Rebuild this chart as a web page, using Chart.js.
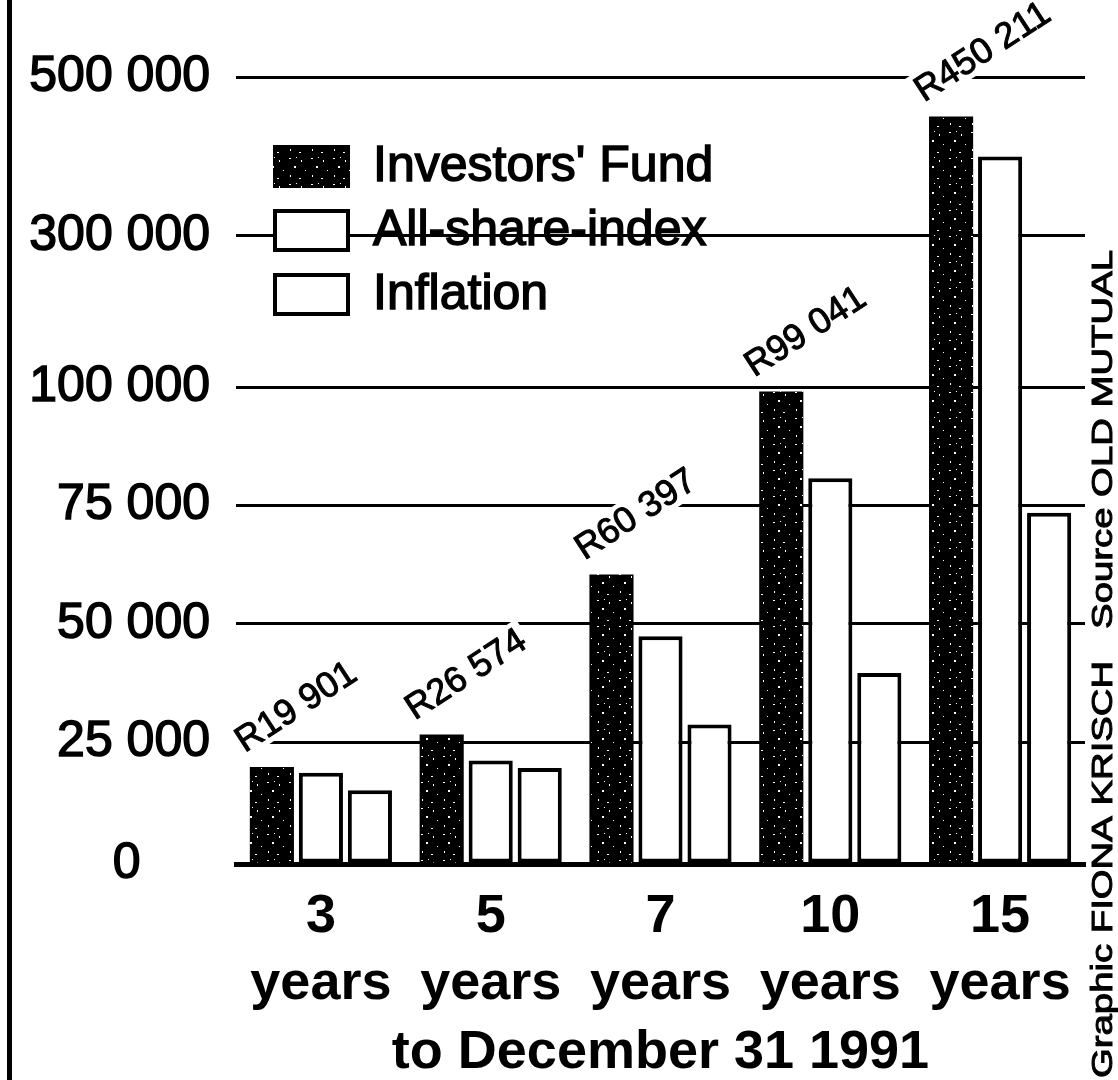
<!DOCTYPE html>
<html>
<head>
<meta charset="utf-8">
<title>Investors' Fund</title>
<script src="https://cdn.jsdelivr.net/npm/chart.js@4.4.1/dist/chart.umd.min.js"></script>
<style>
  html, body { margin: 0; padding: 0; background: #fff; }
  #wrap { width: 1118px; height: 1080px; position: relative; }
</style>
</head>
<body>
<div id="wrap"><canvas id="barChart"></canvas></div>
<script>
// Periods, years to December 31 1991
const periods = ["3", "5", "7", "10", "15"];

// Value in rand for each period
const investorsFund = [19901, 26574, 60397, 99041, 450211];
const allShareIndex = [18700, 21200, 47400, 80700, 400000];
const inflation = [15100, 19700, 28700, 39600, 73400];

// Y axis ticks as printed (the axis is stretched below 100 000)
const yTicks = [0, 25000, 50000, 75000, 100000, 300000, 500000];
// where each tick sits, as a share of the plot height
const yTickPos = [0, 0.155, 0.305, 0.456, 0.606, 0.798, 1];

const FONT = "'Liberation Sans', Arial, Helvetica, sans-serif";
Chart.defaults.font.family = FONT;
Chart.defaults.color = "#000";

const fmt = v => String(v).replace(/\B(?=(\d{3})+(?!\d))/g, " ");

// piecewise scale so the printed tick spacing is kept
function toDecimal(v) {
  if (v <= yTicks[0]) return yTickPos[0];
  for (let i = 1; i < yTicks.length; i++) {
    if (v <= yTicks[i]) {
      const t = (v - yTicks[i - 1]) / (yTicks[i] - yTicks[i - 1]);
      return yTickPos[i - 1] + t * (yTickPos[i] - yTickPos[i - 1]);
    }
  }
  return 1;
}
function fromDecimal(d) {
  for (let i = 1; i < yTickPos.length; i++) {
    if (d <= yTickPos[i]) {
      const t = (d - yTickPos[i - 1]) / (yTickPos[i] - yTickPos[i - 1]);
      return yTicks[i - 1] + t * (yTicks[i] - yTicks[i - 1]);
    }
  }
  return yTicks[yTicks.length - 1];
}

const LinearScale = Chart.LinearScale || Chart.registry.getScale("linear");
class BrokenScale extends LinearScale {
  buildTicks() {
    this.start = this.min;
    this.end = this.max;
    return yTicks.map(v => ({ value: v }));
  }
  getPixelForValue(value) {
    return this.getPixelForDecimal(toDecimal(value));
  }
  getValueForPixel(pixel) {
    return fromDecimal(this.getDecimalForPixel(pixel));
  }
}
BrokenScale.id = "broken";
BrokenScale.defaults = {};
Chart.register(BrokenScale);

// mostly black fill with a few specks, like the printed bars
function speckle() {
  const c = document.createElement("canvas");
  c.width = 22; c.height = 26;
  const g = c.getContext("2d");
  g.fillStyle = "#000";
  g.fillRect(0, 0, 22, 26);
  g.fillStyle = "#fff";
  [[3, 2, 2, 1], [15, 4, 1, 2], [8, 10, 2, 2], [19, 14, 1, 1], [4, 19, 1, 2], [13, 22, 2, 1], [10, 1, 1, 1]]
    .forEach(r => g.fillRect(r[0], r[1], r[2], r[3]));
  return g.createPattern(c, "repeat");
}

function boldText(ctx, txt, x, y, w) {
  ctx.lineWidth = w;
  ctx.strokeStyle = "#000";
  ctx.strokeText(txt, x, y);
  ctx.fillText(txt, x, y);
}

const decor = {
  id: "decor",
  afterDatasetsDraw(chart) {
    const ctx = chart.ctx;
    const area = chart.chartArea;

    // value labels over the Investors' Fund bars
    ctx.save();
    ctx.font = "36px " + FONT;
    ctx.textAlign = "left";
    ctx.textBaseline = "alphabetic";
    chart.getDatasetMeta(0).data.forEach((bar, i) => {
      const txt = "R" + fmt(investorsFund[i]);
      const w = ctx.measureText(txt).width;
      ctx.save();
      ctx.translate(bar.x - bar.width / 2 - 5, bar.y - 14);
      ctx.rotate(-33 * Math.PI / 180);
      ctx.fillStyle = "#fff";
      ctx.fillRect(-4, -30, w + 8, 36);
      ctx.fillStyle = "#000";
      boldText(ctx, txt, 0, 0, 1);
      ctx.restore();
    });
    ctx.restore();

    // legend
    ctx.save();
    const sx = area.left + 37, sy = area.top + 68, sw = 77, sh = 43, gap = 64;
    ctx.font = "50px " + FONT;
    ctx.textBaseline = "middle";
    chart.data.datasets.forEach((ds, i) => {
      const y = sy + i * gap;
      ctx.fillStyle = ds.backgroundColor;
      ctx.fillRect(sx, y, sw, sh);
      if (ds.borderWidth) {
        ctx.lineWidth = 4;
        ctx.strokeStyle = "#000";
        ctx.strokeRect(sx + 2, y + 2, sw - 4, sh - 4);
      }
      ctx.fillStyle = "#000";
      boldText(ctx, ds.label, sx + 100, y + sh / 2 + 1, 1.5);
    });
    ctx.restore();
  },
  afterDraw(chart) {
    const ctx = chart.ctx;
    ctx.save();
    // frame line on the left
    ctx.fillStyle = "#000";
    ctx.fillRect(7, 0, 5, chart.height);
    // credits along the right edge
    const txt = "Graphic FIONA KRISCH   Source OLD MUTUAL";
    ctx.font = "30px " + FONT;
    const w = ctx.measureText(txt).width;
    ctx.translate(1104, 1078);
    ctx.rotate(-Math.PI / 2);
    ctx.scale(828 / w, 1);
    ctx.textAlign = "left";
    ctx.textBaseline = "middle";
    boldText(ctx, txt, 0, 0, 1);
    ctx.restore();
  }
};

new Chart(document.getElementById("barChart"), {
  type: "bar",
  data: {
    labels: periods.map(p => [p, "years"]),
    datasets: [
      {
        label: "Investors' Fund",
        data: investorsFund,
        backgroundColor: speckle(),
        borderWidth: 0
      },
      {
        label: "All-share-index",
        data: allShareIndex,
        backgroundColor: "#fff",
        borderColor: "#000",
        borderWidth: 4,
        borderSkipped: false
      },
      {
        label: "Inflation",
        data: inflation,
        backgroundColor: "#fff",
        borderColor: "#000",
        borderWidth: 4,
        borderSkipped: false
      }
    ]
  },
  options: {
    responsive: true,
    maintainAspectRatio: false,
    animation: false,
    categoryPercentage: 0.866,
    barPercentage: 0.9,
    layout: { padding: { top: 77, right: 33, bottom: 0, left: 0 } },
    plugins: {
      legend: { display: false },
      tooltip: { enabled: false }
    },
    scales: {
      x: {
        grid: { display: false, drawTicks: false },
        border: { display: true, color: "#000", width: 5 },
        ticks: {
          font: { size: 54, weight: "bold", lineHeight: 1.24 },
          padding: 20,
          maxRotation: 0,
          autoSkip: false
        },
        title: {
          display: true,
          text: "to December 31 1991",
          font: { size: 54, weight: "bold", lineHeight: 1 },
          padding: { top: 0, bottom: 0 }
        },
        afterFit: s => { s.height = 216; }
      },
      y: {
        type: "broken",
        min: 0,
        max: 500000,
        grid: { color: "#000", lineWidth: 3, drawTicks: false },
        border: { display: false },
        ticks: {
          font: { size: 50 },
          padding: 26,
          autoSkip: false,
          textStrokeColor: "#000",
          textStrokeWidth: 1.5,
          callback: v => (v === 0 ? "0     " : fmt(v))
        },
        afterFit: s => { s.width = 236; }
      }
    }
  },
  plugins: [decor]
});
</script>
</body>
</html>
